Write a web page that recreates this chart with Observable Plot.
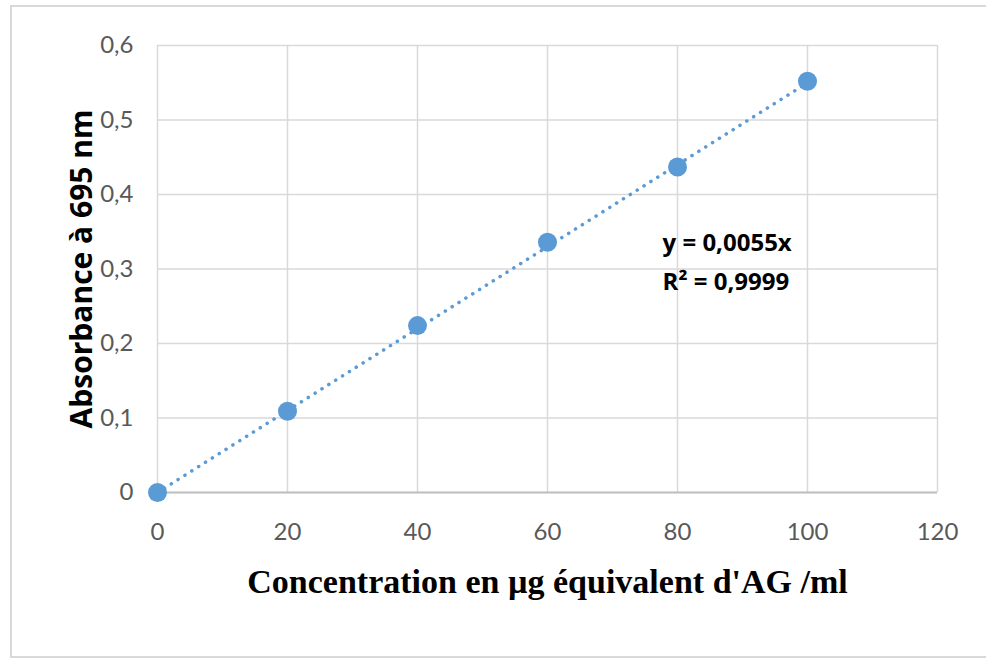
<!DOCTYPE html>
<html>
<head>
<meta charset="utf-8">
<script src="https://cdn.jsdelivr.net/npm/d3@7"></script>
<script src="https://cdn.jsdelivr.net/npm/@observablehq/plot@0.6"></script>
<style>
  html, body { margin: 0; padding: 0; background: #fff; }
  #wrap { position: relative; width: 986px; height: 658px; overflow: hidden; }
  #border { position: absolute; left: 10px; top: 5px; width: 990px; height: 653px; border: 2px solid #d9d9d9; box-sizing: border-box; }
  #chart { position: absolute; left: 0; top: 0; }
</style>
</head>
<body>
<div id="wrap"><div id="border"></div><div id="chart"></div></div>
<script>
// Data
const concentrations = [0, 20, 40, 60, 80, 100];
const absorbances = [0, 0.109, 0.224, 0.336, 0.437, 0.552];
const slope = 0.0055;
const trendX = [0, 100];
const xTicks = [0, 20, 40, 60, 80, 100, 120];
const yTicks = [0, 0.1, 0.2, 0.3, 0.4, 0.5, 0.6];
const equationLines = ["y = 0,0055x", "R² = 0,9999"];
const xTitle = "Concentration en µg équivalent d'AG /ml";
const yTitle = "Absorbance à 695 nm";

const points = concentrations.map((c, i) => ({x: c, y: absorbances[i]}));
const trend = trendX.map(x => ({x, y: slope * x}));
const fmt = d => d === 0 ? "0" : d.toFixed(1).replace(".", ",");
const blue = "#5b9bd5";

const chart = Plot.plot({
  width: 986,
  height: 658,
  marginLeft: 157,
  marginRight: 49,
  marginTop: 45,
  marginBottom: 166,
  style: {fontFamily: "Lato, sans-serif", fontSize: "24px", color: "#595959", background: "transparent"},
  x: {domain: [0, 120], ticks: xTicks, tickSize: 0, tickPadding: 30, label: null},
  y: {domain: [0, 0.6], ticks: yTicks, tickSize: 0, tickPadding: 24, tickFormat: fmt, label: null},
  marks: [
    Plot.gridX(xTicks, {stroke: "#d9d9d9", strokeOpacity: 1, strokeWidth: 1.5}),
    Plot.gridY(yTicks, {stroke: "#d9d9d9", strokeOpacity: 1, strokeWidth: 1.5}),
    Plot.ruleY([0], {stroke: "#bfbfbf", strokeWidth: 2}),
    Plot.axisX({ticks: xTicks, tickSize: 0, tickPadding: 30, label: null, fill: "#595959"}),
    Plot.axisY({ticks: yTicks, tickSize: 0, tickPadding: 24, tickFormat: fmt, label: null, fill: "#595959"}),
    Plot.line(trend, {x: "x", y: "y", stroke: blue, strokeWidth: 3.5, strokeDasharray: "0.1 8", strokeLinecap: "round"}),
    Plot.dot(points, {x: "x", y: "y", r: 9.5, fill: blue, stroke: "none"}),
    Plot.text([equationLines[0]], {x: 77.7, y: 0.334, text: d => d, textAnchor: "start", fill: "#000", fontWeight: "bold", fontSize: 24, fontFamily: "Open Sans, sans-serif"}),
    Plot.text([equationLines[1]], {x: 77.7, y: 0.282, text: d => d, textAnchor: "start", fill: "#000", fontWeight: "bold", fontSize: 24, fontFamily: "Open Sans, sans-serif"}),
    Plot.text([yTitle], {frameAnchor: "left", dx: -75, rotate: -90, textAnchor: "middle", text: d => d, fill: "#000", fontWeight: "bold", fontSize: 30, fontFamily: "Open Sans, sans-serif"}),
    Plot.text([xTitle], {frameAnchor: "bottom", dy: 100, textAnchor: "middle", text: d => d, fill: "#000", fontWeight: "bold", fontSize: 34, fontFamily: "Liberation Serif, serif"})
  ]
});
document.getElementById("chart").appendChild(chart);
</script>
</body>
</html>
